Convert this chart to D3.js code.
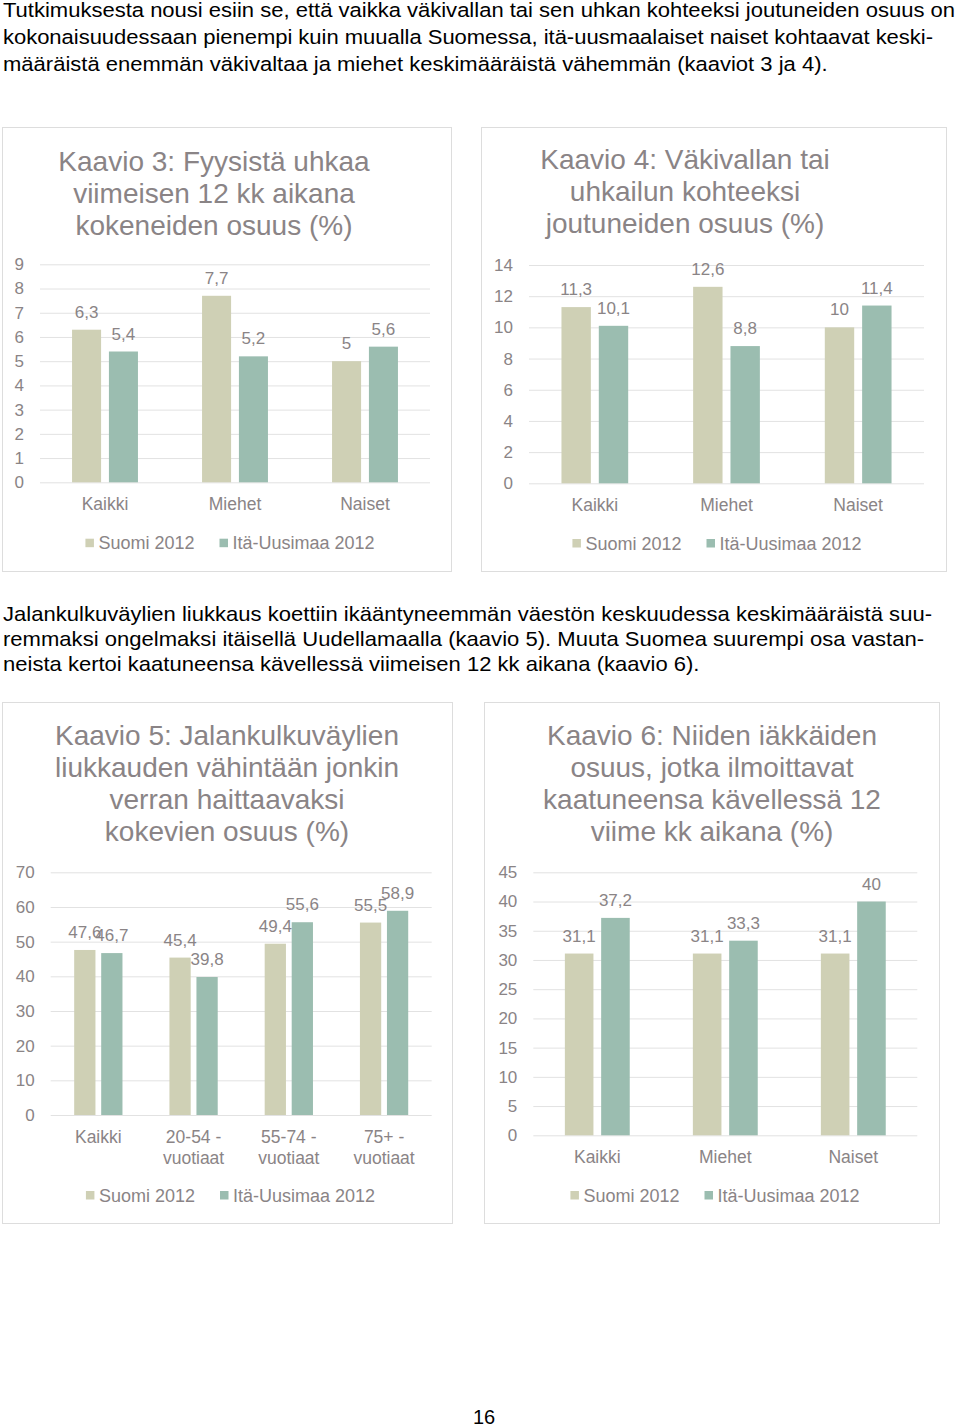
<!DOCTYPE html>
<html>
<head>
<meta charset="utf-8">
<script src="https://cdn.jsdelivr.net/npm/d3@7/dist/d3.min.js"></script>
<style>
  html, body { margin: 0; padding: 0; background: #ffffff; }
  svg { display: block; }
  text { font-family: "Liberation Sans", Arial, sans-serif; }
</style>
</head>
<body>
<div id="chart"></div>
<script>
// ---------------- DATA ----------------
const paragraph1 = [
  "Tutkimuksesta nousi esiin se, että vaikka väkivallan tai sen uhkan kohteeksi joutuneiden osuus on",
  "kokonaisuudessaan pienempi kuin muualla Suomessa, itä-uusmaalaiset naiset kohtaavat keski-",
  "määräistä enemmän väkivaltaa ja miehet keskimääräistä vähemmän (kaaviot 3 ja 4)."
];
const paragraph2 = [
  "Jalankulkuväylien liukkaus koettiin ikääntyneemmän väestön keskuudessa keskimääräistä suu-",
  "remmaksi ongelmaksi itäisellä Uudellamaalla (kaavio 5). Muuta Suomea suurempi osa vastan-",
  "neista kertoi kaatuneensa kävellessä viimeisen 12 kk aikana (kaavio 6)."
];
const pageNumber = "16";

const seriesNames = ["Suomi 2012", "Itä-Uusimaa 2012"];

const c3Title = ["Kaavio 3: Fyysistä uhkaa", "viimeisen 12 kk aikana", "kokeneiden osuus (%)"];
const c3Categories = [["Kaikki"], ["Miehet"], ["Naiset"]];
const c3Suomi = [6.3, 7.7, 5.0];
const c3Ita = [5.4, 5.2, 5.6];
const c3Ticks = [0, 1, 2, 3, 4, 5, 6, 7, 8, 9];

const c4Title = ["Kaavio 4: Väkivallan tai", "uhkailun kohteeksi", "joutuneiden osuus (%)"];
const c4Categories = [["Kaikki"], ["Miehet"], ["Naiset"]];
const c4Suomi = [11.3, 12.6, 10.0];
const c4Ita = [10.1, 8.8, 11.4];
const c4Ticks = [0, 2, 4, 6, 8, 10, 12, 14];

const c5Title = ["Kaavio 5: Jalankulkuväylien", "liukkauden vähintään jonkin", "verran haittaavaksi", "kokevien osuus (%)"];
const c5Categories = [["Kaikki"], ["20-54 -", "vuotiaat"], ["55-74 -", "vuotiaat"], ["75+ -", "vuotiaat"]];
const c5Suomi = [47.6, 45.4, 49.4, 55.5];
const c5Ita = [46.7, 39.8, 55.6, 58.9];
const c5Ticks = [0, 10, 20, 30, 40, 50, 60, 70];

const c6Title = ["Kaavio 6: Niiden iäkkäiden", "osuus, jotka ilmoittavat", "kaatuneensa kävellessä 12", "viime kk aikana (%)"];
const c6Categories = [["Kaikki"], ["Miehet"], ["Naiset"]];
const c6Suomi = [31.1, 31.1, 31.1];
const c6Ita = [37.2, 33.3, 40.0];
const c6Ticks = [0, 5, 10, 15, 20, 25, 30, 35, 40, 45];

// ---------------- STYLE / LAYOUT ----------------
const W = 960, H = 1427;
const colors = ["#cfd0b5", "#9bbdb0"];
const textGray = "#8a8486";
const gridColor = "#e2e2e2";
const boxStroke = "#dddddd";

const charts = [
  { title: c3Title, cats: c3Categories, vals: [c3Suomi, c3Ita], ticks: c3Ticks,
    box: [2.5, 127.5, 449, 444], px: [40, 430], py: [482.3, 264.3],
    titleX: 214, titleY: 171, legendY: 542.7 },
  { title: c4Title, cats: c4Categories, vals: [c4Suomi, c4Ita], ticks: c4Ticks,
    box: [481.5, 127.5, 465, 444], px: [529, 924], py: [483.3, 265],
    titleX: 685, titleY: 169, legendY: 543 },
  { title: c5Title, cats: c5Categories, vals: [c5Suomi, c5Ita], ticks: c5Ticks,
    box: [2.5, 702.5, 450, 521], px: [50.7, 431.7], py: [1115, 872.3],
    titleX: 227, titleY: 745, legendY: 1195 },
  { title: c6Title, cats: c6Categories, vals: [c6Suomi, c6Ita], ticks: c6Ticks,
    box: [484.5, 702.5, 455, 521], px: [533.3, 917.3], py: [1135.3, 872.3],
    titleX: 712, titleY: 745, legendY: 1195 }
];

const fmt = v => (Number.isInteger(v) ? String(v) : v.toFixed(1).replace(".", ","));

const svg = d3.select("#chart").append("svg")
  .attr("width", W).attr("height", H)
  .attr("viewBox", `0 0 ${W} ${H}`);

svg.append("rect").attr("width", W).attr("height", H).attr("fill", "#fff");

// ---------------- PARAGRAPHS ----------------
function paragraph(lines, baselines, widths) {
  const g = svg.append("g");
  const fs = 20.5;
  const texts = g.selectAll("text").data(lines).join("text")
    .attr("x", 0).attr("y", (d, i) => baselines[i])
    .attr("font-size", fs).attr("fill", "#000")
    .text(d => d);
  const nodes = texts.nodes();
  const lastNat = nodes[nodes.length - 1].getComputedTextLength();
  const sx = widths[widths.length - 1] / lastNat;
  g.attr("transform", `translate(3,0) scale(${sx},1)`);
  texts.each(function (d, i) {
    if (i < lines.length - 1) {
      d3.select(this).attr("textLength", widths[i] / sx).attr("lengthAdjust", "spacing");
    }
  });
}
paragraph(paragraph1, [17, 44, 71], [952, 930, 825]);
paragraph(paragraph2, [621, 646, 671], [929, 921, 697]);

svg.append("text").attr("x", 484).attr("y", 1424).attr("text-anchor", "middle")
  .attr("font-size", 20).attr("fill", "#000").text(pageNumber);

// ---------------- CHARTS ----------------
charts.forEach(c => {
  const g = svg.append("g");
  g.append("rect")
    .attr("x", c.box[0]).attr("y", c.box[1])
    .attr("width", c.box[2]).attr("height", c.box[3])
    .attr("fill", "#fff").attr("stroke", boxStroke).attr("stroke-width", 1);

  const tt = g.append("text").attr("text-anchor", "middle")
    .attr("font-size", 28).attr("fill", textGray);
  c.title.forEach((line, i) => {
    tt.append("tspan").attr("x", c.titleX).attr("y", c.titleY + i * 32).text(line);
  });

  const y = d3.scaleLinear()
    .domain([0, d3.max(c.ticks)])
    .range(c.py);
  const catKeys = c.cats.map(d => d.join(" "));
  const x0 = d3.scaleBand().domain(catKeys).range(c.px).padding(0);
  const barW = x0.bandwidth() * 0.2233;
  const gap = barW * 0.27;
  const groupW = 2 * barW + gap;
  const x1 = d3.scaleBand().domain(seriesNames)
    .range([0, groupW]).paddingInner(gap / (barW + gap)).paddingOuter(0);

  const yAxis = d3.axisLeft(y).tickValues(c.ticks)
    .tickSize(-(c.px[1] - c.px[0])).tickPadding(16).tickFormat(d => String(d));
  const ax = g.append("g").attr("transform", `translate(${c.px[0]},0)`).call(yAxis);
  ax.select(".domain").remove();
  ax.selectAll(".tick line").attr("stroke", gridColor).attr("stroke-width", 1);
  ax.selectAll(".tick text").attr("fill", textGray)
    .attr("font-size", 17).attr("font-family", "Liberation Sans, Arial, sans-serif");

  const rows = [];
  catKeys.forEach((k, ci) => {
    seriesNames.forEach((s, si) => {
      rows.push({ cat: k, series: s, si, value: c.vals[si][ci] });
    });
  });
  const off = (x0.bandwidth() - groupW) / 2;
  g.selectAll("rect.bar").data(rows).join("rect")
    .attr("class", "bar")
    .attr("x", d => x0(d.cat) + off + x1(d.series))
    .attr("y", d => y(d.value))
    .attr("width", x1.bandwidth())
    .attr("height", d => y(0) - y(d.value))
    .attr("fill", d => colors[d.si]);

  g.selectAll("text.val").data(rows).join("text")
    .attr("class", "val")
    .attr("x", d => x0(d.cat) + off + x1(d.series) + x1.bandwidth() / 2)
    .attr("y", d => y(d.value) - 12)
    .attr("text-anchor", "middle").attr("font-size", 17).attr("fill", textGray)
    .text(d => fmt(d.value));

  c.cats.forEach((lines, ci) => {
    const t = g.append("text").attr("text-anchor", "middle")
      .attr("font-size", 17.5).attr("fill", textGray);
    lines.forEach((ln, li) => {
      t.append("tspan").attr("x", x0(catKeys[ci]) + x0.bandwidth() / 2)
        .attr("y", y(0) + 28 + li * 20.6).text(ln);
    });
  });

  const lg = g.append("g");
  const items = lg.selectAll("g").data(seriesNames).join("g");
  items.append("rect").attr("width", 8.5).attr("height", 8.5)
    .attr("y", c.legendY - 4).attr("fill", (d, i) => colors[i]);
  items.append("text").attr("x", 13).attr("y", c.legendY + 6.5)
    .attr("font-size", 18).attr("fill", textGray).text(d => d);
  let cx = 0;
  items.each(function () {
    d3.select(this).attr("transform", `translate(${cx},0)`);
    cx += this.getBBox().width + 25;
  });
  const totalW = cx - 25;
  const center = c.box[0] + c.box[2] / 2 + 3;
  lg.attr("transform", `translate(${center - totalW / 2},0)`);
});
</script>
</body>
</html>
